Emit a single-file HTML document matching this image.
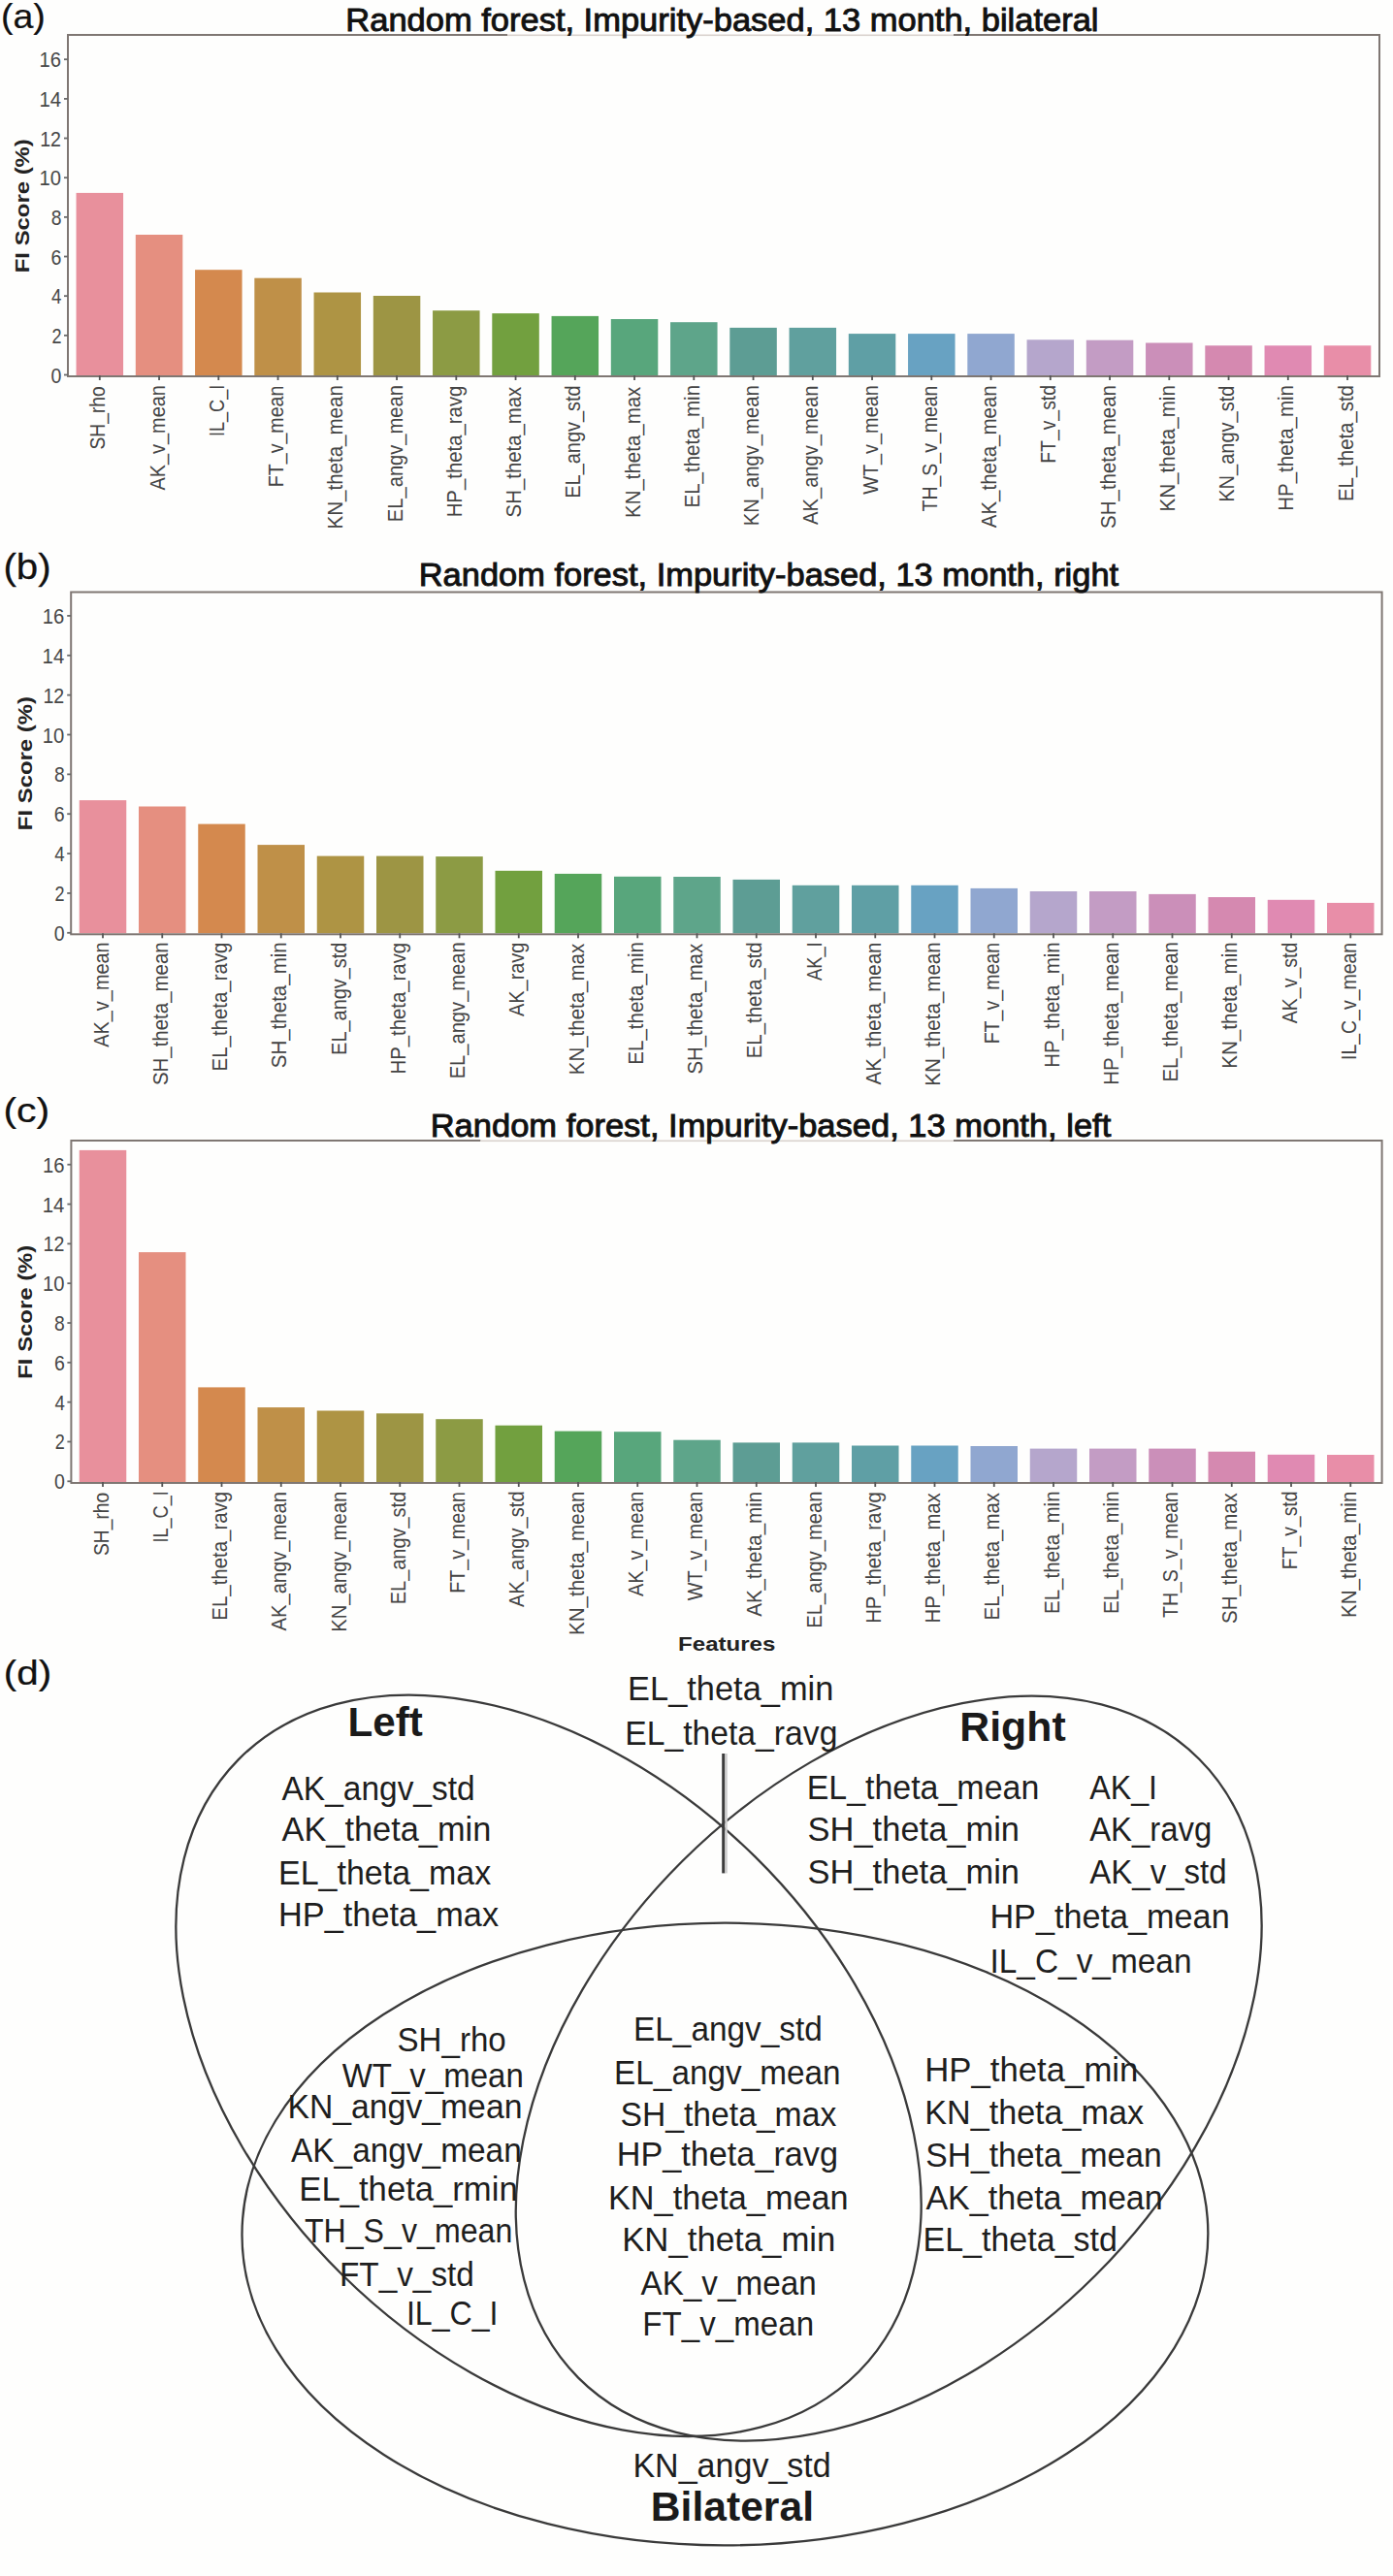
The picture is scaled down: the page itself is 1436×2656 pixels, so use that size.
<!DOCTYPE html>
<html><head><meta charset="utf-8"><style>
html,body{margin:0;padding:0;background:#fefefd;}
svg{display:block;}
text{font-family:"Liberation Sans",sans-serif;}
</style></head><body>
<svg width="1436" height="2656" viewBox="0 0 1436 2656">
<rect width="1436" height="2656" fill="#fefefd"/>
<rect x="78.55" y="198.90" width="48.5" height="188.10" fill="#e8909c"/>
<rect x="139.80" y="242.00" width="48.5" height="145.00" fill="#e58f80"/>
<rect x="201.05" y="278.20" width="48.5" height="108.80" fill="#d4894e"/>
<rect x="262.30" y="286.70" width="48.5" height="100.30" fill="#bf9048"/>
<rect x="323.55" y="301.50" width="48.5" height="85.50" fill="#ae9444"/>
<rect x="384.80" y="305.00" width="48.5" height="82.00" fill="#9d9544"/>
<rect x="446.05" y="320.20" width="48.5" height="66.80" fill="#8c9b44"/>
<rect x="507.30" y="323.10" width="48.5" height="63.90" fill="#72a03f"/>
<rect x="568.55" y="325.90" width="48.5" height="61.10" fill="#55a55a"/>
<rect x="629.80" y="329.00" width="48.5" height="58.00" fill="#58a67c"/>
<rect x="691.05" y="332.20" width="48.5" height="54.80" fill="#5ea58a"/>
<rect x="752.30" y="337.90" width="48.5" height="49.10" fill="#5d9d94"/>
<rect x="813.55" y="337.90" width="48.5" height="49.10" fill="#60a09e"/>
<rect x="874.80" y="344.10" width="48.5" height="42.90" fill="#5f9fa5"/>
<rect x="936.05" y="344.10" width="48.5" height="42.90" fill="#68a2c2"/>
<rect x="997.30" y="344.10" width="48.5" height="42.90" fill="#90a7d0"/>
<rect x="1058.55" y="350.30" width="48.5" height="36.70" fill="#b5a6cc"/>
<rect x="1119.80" y="350.70" width="48.5" height="36.30" fill="#c39cc4"/>
<rect x="1181.05" y="353.50" width="48.5" height="33.50" fill="#cb8fb9"/>
<rect x="1242.30" y="356.30" width="48.5" height="30.70" fill="#d589b0"/>
<rect x="1303.55" y="356.30" width="48.5" height="30.70" fill="#e08ab2"/>
<rect x="1364.80" y="356.30" width="48.5" height="30.70" fill="#e88ea8"/>
<rect x="70.00" y="36.00" width="1352.00" height="352.00" fill="none" stroke="#7f7773" stroke-width="2"/>
<rect x="523" y="34.80" width="460" height="2.4" fill="#fefefd"/>
<rect x="523" y="35.50" width="460" height="1.6" fill="#d9d2ce"/>
<rect x="66.00" y="385.60" width="4" height="1.8" fill="#6a6a6a"/>
<text transform="translate(52.58,394.50) scale(0.8686,1)" style="font-size:22.5px;" fill="#474747">0</text>
<rect x="66.00" y="344.94" width="4" height="1.8" fill="#6a6a6a"/>
<text transform="translate(53.38,353.84) scale(0.8018,1)" style="font-size:22.5px;" fill="#474747">2</text>
<rect x="66.00" y="304.28" width="4" height="1.8" fill="#6a6a6a"/>
<text transform="translate(53.02,313.18) scale(0.8313,1)" style="font-size:22.5px;" fill="#474747">4</text>
<rect x="66.00" y="263.62" width="4" height="1.8" fill="#6a6a6a"/>
<text transform="translate(52.58,272.52) scale(0.8686,1)" style="font-size:22.5px;" fill="#474747">6</text>
<rect x="66.00" y="222.96" width="4" height="1.8" fill="#6a6a6a"/>
<text transform="translate(52.69,231.86) scale(0.8591,1)" style="font-size:22.5px;" fill="#474747">8</text>
<rect x="66.00" y="182.30" width="4" height="1.8" fill="#6a6a6a"/>
<text transform="translate(40.52,191.20) scale(0.8993,1)" style="font-size:22.5px;" fill="#474747">10</text>
<rect x="66.00" y="141.64" width="4" height="1.8" fill="#6a6a6a"/>
<text transform="translate(41.20,150.54) scale(0.8720,1)" style="font-size:22.5px;" fill="#474747">12</text>
<rect x="66.00" y="100.98" width="4" height="1.8" fill="#6a6a6a"/>
<text transform="translate(40.40,109.88) scale(0.9039,1)" style="font-size:22.5px;" fill="#474747">14</text>
<rect x="66.00" y="60.32" width="4" height="1.8" fill="#6a6a6a"/>
<text transform="translate(40.52,69.22) scale(0.8993,1)" style="font-size:22.5px;" fill="#474747">16</text>
<rect x="101.90" y="387.00" width="1.8" height="5" fill="#555"/>
<text transform="translate(108.30,463.46) rotate(-90) scale(0.8548,1)" style="font-size:22.5px;" fill="#444">SH_rho</text>
<rect x="163.15" y="387.00" width="1.8" height="5" fill="#555"/>
<text transform="translate(169.55,505.55) rotate(-90) scale(0.8847,1)" style="font-size:22.5px;" fill="#444">AK_v_mean</text>
<rect x="224.40" y="387.00" width="1.8" height="5" fill="#555"/>
<text transform="translate(230.80,450.08) rotate(-90) scale(0.8059,1)" style="font-size:22.5px;" fill="#444">IL_C_I</text>
<rect x="285.65" y="387.00" width="1.8" height="5" fill="#555"/>
<text transform="translate(292.05,502.16) rotate(-90) scale(0.8711,1)" style="font-size:22.5px;" fill="#444">FT_v_mean</text>
<rect x="346.90" y="387.00" width="1.8" height="5" fill="#555"/>
<text transform="translate(353.30,545.51) rotate(-90) scale(0.9131,1)" style="font-size:22.5px;" fill="#444">KN_theta_mean</text>
<rect x="408.15" y="387.00" width="1.8" height="5" fill="#555"/>
<text transform="translate(414.55,538.14) rotate(-90) scale(0.8951,1)" style="font-size:22.5px;" fill="#444">EL_angv_mean</text>
<rect x="469.40" y="387.00" width="1.8" height="5" fill="#555"/>
<text transform="translate(475.80,533.34) rotate(-90) scale(0.9050,1)" style="font-size:22.5px;" fill="#444">HP_theta_ravg</text>
<rect x="530.65" y="387.00" width="1.8" height="5" fill="#555"/>
<text transform="translate(537.05,533.38) rotate(-90) scale(0.9052,1)" style="font-size:22.5px;" fill="#444">SH_theta_max</text>
<rect x="591.90" y="387.00" width="1.8" height="5" fill="#555"/>
<text transform="translate(598.30,513.72) rotate(-90) scale(0.8863,1)" style="font-size:22.5px;" fill="#444">EL_angv_std</text>
<rect x="653.15" y="387.00" width="1.8" height="5" fill="#555"/>
<text transform="translate(659.55,533.98) rotate(-90) scale(0.9093,1)" style="font-size:22.5px;" fill="#444">KN_theta_max</text>
<rect x="714.40" y="387.00" width="1.8" height="5" fill="#555"/>
<text transform="translate(720.80,523.51) rotate(-90) scale(0.9125,1)" style="font-size:22.5px;" fill="#444">EL_theta_min</text>
<rect x="775.65" y="387.00" width="1.8" height="5" fill="#555"/>
<text transform="translate(782.05,542.23) rotate(-90) scale(0.8983,1)" style="font-size:22.5px;" fill="#444">KN_angv_mean</text>
<rect x="836.90" y="387.00" width="1.8" height="5" fill="#555"/>
<text transform="translate(843.30,540.96) rotate(-90) scale(0.8960,1)" style="font-size:22.5px;" fill="#444">AK_angv_mean</text>
<rect x="898.15" y="387.00" width="1.8" height="5" fill="#555"/>
<text transform="translate(904.55,509.85) rotate(-90) scale(0.8837,1)" style="font-size:22.5px;" fill="#444">WT_v_mean</text>
<rect x="959.40" y="387.00" width="1.8" height="5" fill="#555"/>
<text transform="translate(965.80,527.45) rotate(-90) scale(0.8654,1)" style="font-size:22.5px;" fill="#444">TH_S_v_mean</text>
<rect x="1020.65" y="387.00" width="1.8" height="5" fill="#555"/>
<text transform="translate(1027.05,544.21) rotate(-90) scale(0.9107,1)" style="font-size:22.5px;" fill="#444">AK_theta_mean</text>
<rect x="1081.90" y="387.00" width="1.8" height="5" fill="#555"/>
<text transform="translate(1088.30,477.74) rotate(-90) scale(0.8613,1)" style="font-size:22.5px;" fill="#444">FT_v_std</text>
<rect x="1143.15" y="387.00" width="1.8" height="5" fill="#555"/>
<text transform="translate(1149.55,544.91) rotate(-90) scale(0.9094,1)" style="font-size:22.5px;" fill="#444">SH_theta_mean</text>
<rect x="1204.40" y="387.00" width="1.8" height="5" fill="#555"/>
<text transform="translate(1210.80,527.60) rotate(-90) scale(0.9156,1)" style="font-size:22.5px;" fill="#444">KN_theta_min</text>
<rect x="1265.65" y="387.00" width="1.8" height="5" fill="#555"/>
<text transform="translate(1272.05,517.81) rotate(-90) scale(0.8904,1)" style="font-size:22.5px;" fill="#444">KN_angv_std</text>
<rect x="1326.90" y="387.00" width="1.8" height="5" fill="#555"/>
<text transform="translate(1333.30,526.65) rotate(-90) scale(0.9088,1)" style="font-size:22.5px;" fill="#444">HP_theta_min</text>
<rect x="1388.15" y="387.00" width="1.8" height="5" fill="#555"/>
<text transform="translate(1394.55,517.00) rotate(-90) scale(0.9046,1)" style="font-size:22.5px;" fill="#444">EL_theta_std</text>
<text transform="translate(29.70,281.23) rotate(-90) scale(1.2252,1)" style="font-size:19.5px;font-weight:bold;" fill="#222">FI Score (%)</text>
<text transform="translate(356.32,31.60) scale(1.0612,1)" style="font-size:32.5px;" fill="#111" stroke="#111" stroke-width="0.9">Random forest, Impurity-based, 13 month, bilateral</text>
<text transform="translate(0.92,28.50) scale(1.0425,1)" style="font-size:36px;" fill="#111" stroke="#111" stroke-width="0.25">(a)</text>
<rect x="81.75" y="825.10" width="48.5" height="137.20" fill="#e8909c"/>
<rect x="143.00" y="831.50" width="48.5" height="130.80" fill="#e58f80"/>
<rect x="204.25" y="849.60" width="48.5" height="112.70" fill="#d4894e"/>
<rect x="265.50" y="871.10" width="48.5" height="91.20" fill="#bf9048"/>
<rect x="326.75" y="882.60" width="48.5" height="79.70" fill="#ae9444"/>
<rect x="388.00" y="882.60" width="48.5" height="79.70" fill="#9d9544"/>
<rect x="449.25" y="883.10" width="48.5" height="79.20" fill="#8c9b44"/>
<rect x="510.50" y="897.80" width="48.5" height="64.50" fill="#72a03f"/>
<rect x="571.75" y="900.90" width="48.5" height="61.40" fill="#55a55a"/>
<rect x="633.00" y="903.80" width="48.5" height="58.50" fill="#58a67c"/>
<rect x="694.25" y="904.00" width="48.5" height="58.30" fill="#5ea58a"/>
<rect x="755.50" y="906.90" width="48.5" height="55.40" fill="#5d9d94"/>
<rect x="816.75" y="912.80" width="48.5" height="49.50" fill="#60a09e"/>
<rect x="878.00" y="912.80" width="48.5" height="49.50" fill="#5f9fa5"/>
<rect x="939.25" y="912.80" width="48.5" height="49.50" fill="#68a2c2"/>
<rect x="1000.50" y="915.90" width="48.5" height="46.40" fill="#90a7d0"/>
<rect x="1061.75" y="919.00" width="48.5" height="43.30" fill="#b5a6cc"/>
<rect x="1123.00" y="919.00" width="48.5" height="43.30" fill="#c39cc4"/>
<rect x="1184.25" y="921.90" width="48.5" height="40.40" fill="#cb8fb9"/>
<rect x="1245.50" y="925.00" width="48.5" height="37.30" fill="#d589b0"/>
<rect x="1306.75" y="927.80" width="48.5" height="34.50" fill="#e08ab2"/>
<rect x="1368.00" y="930.90" width="48.5" height="31.40" fill="#e88ea8"/>
<rect x="73.20" y="610.50" width="1351.40" height="352.80" fill="none" stroke="#7f7773" stroke-width="2"/>
<rect x="69.20" y="960.90" width="4" height="1.8" fill="#6a6a6a"/>
<text transform="translate(55.78,969.80) scale(0.8686,1)" style="font-size:22.5px;" fill="#474747">0</text>
<rect x="69.20" y="920.04" width="4" height="1.8" fill="#6a6a6a"/>
<text transform="translate(56.58,928.94) scale(0.8018,1)" style="font-size:22.5px;" fill="#474747">2</text>
<rect x="69.20" y="879.18" width="4" height="1.8" fill="#6a6a6a"/>
<text transform="translate(56.23,888.08) scale(0.8313,1)" style="font-size:22.5px;" fill="#474747">4</text>
<rect x="69.20" y="838.32" width="4" height="1.8" fill="#6a6a6a"/>
<text transform="translate(55.78,847.22) scale(0.8686,1)" style="font-size:22.5px;" fill="#474747">6</text>
<rect x="69.20" y="797.46" width="4" height="1.8" fill="#6a6a6a"/>
<text transform="translate(55.89,806.36) scale(0.8591,1)" style="font-size:22.5px;" fill="#474747">8</text>
<rect x="69.20" y="756.60" width="4" height="1.8" fill="#6a6a6a"/>
<text transform="translate(43.72,765.50) scale(0.8993,1)" style="font-size:22.5px;" fill="#474747">10</text>
<rect x="69.20" y="715.74" width="4" height="1.8" fill="#6a6a6a"/>
<text transform="translate(44.40,724.64) scale(0.8720,1)" style="font-size:22.5px;" fill="#474747">12</text>
<rect x="69.20" y="674.88" width="4" height="1.8" fill="#6a6a6a"/>
<text transform="translate(43.60,683.78) scale(0.9039,1)" style="font-size:22.5px;" fill="#474747">14</text>
<rect x="69.20" y="634.02" width="4" height="1.8" fill="#6a6a6a"/>
<text transform="translate(43.72,642.92) scale(0.8993,1)" style="font-size:22.5px;" fill="#474747">16</text>
<rect x="105.10" y="962.30" width="1.8" height="5" fill="#555"/>
<text transform="translate(111.50,1079.75) rotate(-90) scale(0.8847,1)" style="font-size:22.5px;" fill="#444">AK_v_mean</text>
<rect x="166.35" y="962.30" width="1.8" height="5" fill="#555"/>
<text transform="translate(172.75,1119.11) rotate(-90) scale(0.9094,1)" style="font-size:22.5px;" fill="#444">SH_theta_mean</text>
<rect x="227.60" y="962.30" width="1.8" height="5" fill="#555"/>
<text transform="translate(234.00,1104.41) rotate(-90) scale(0.9083,1)" style="font-size:22.5px;" fill="#444">EL_theta_ravg</text>
<rect x="288.85" y="962.30" width="1.8" height="5" fill="#555"/>
<text transform="translate(295.25,1101.20) rotate(-90) scale(0.9113,1)" style="font-size:22.5px;" fill="#444">SH_theta_min</text>
<rect x="350.10" y="962.30" width="1.8" height="5" fill="#555"/>
<text transform="translate(356.50,1087.92) rotate(-90) scale(0.8863,1)" style="font-size:22.5px;" fill="#444">EL_angv_std</text>
<rect x="411.35" y="962.30" width="1.8" height="5" fill="#555"/>
<text transform="translate(417.75,1107.54) rotate(-90) scale(0.9050,1)" style="font-size:22.5px;" fill="#444">HP_theta_ravg</text>
<rect x="472.60" y="962.30" width="1.8" height="5" fill="#555"/>
<text transform="translate(479.00,1112.34) rotate(-90) scale(0.8951,1)" style="font-size:22.5px;" fill="#444">EL_angv_mean</text>
<rect x="533.85" y="962.30" width="1.8" height="5" fill="#555"/>
<text transform="translate(540.25,1048.02) rotate(-90) scale(0.8861,1)" style="font-size:22.5px;" fill="#444">AK_ravg</text>
<rect x="595.10" y="962.30" width="1.8" height="5" fill="#555"/>
<text transform="translate(601.50,1108.18) rotate(-90) scale(0.9093,1)" style="font-size:22.5px;" fill="#444">KN_theta_max</text>
<rect x="656.35" y="962.30" width="1.8" height="5" fill="#555"/>
<text transform="translate(662.75,1097.71) rotate(-90) scale(0.9125,1)" style="font-size:22.5px;" fill="#444">EL_theta_min</text>
<rect x="717.60" y="962.30" width="1.8" height="5" fill="#555"/>
<text transform="translate(724.00,1107.58) rotate(-90) scale(0.9052,1)" style="font-size:22.5px;" fill="#444">SH_theta_max</text>
<rect x="778.85" y="962.30" width="1.8" height="5" fill="#555"/>
<text transform="translate(785.25,1091.20) rotate(-90) scale(0.9046,1)" style="font-size:22.5px;" fill="#444">EL_theta_std</text>
<rect x="840.10" y="962.30" width="1.8" height="5" fill="#555"/>
<text transform="translate(846.50,1011.04) rotate(-90) scale(0.8157,1)" style="font-size:22.5px;" fill="#444">AK_I</text>
<rect x="901.35" y="962.30" width="1.8" height="5" fill="#555"/>
<text transform="translate(907.75,1118.41) rotate(-90) scale(0.9107,1)" style="font-size:22.5px;" fill="#444">AK_theta_mean</text>
<rect x="962.60" y="962.30" width="1.8" height="5" fill="#555"/>
<text transform="translate(969.00,1119.71) rotate(-90) scale(0.9131,1)" style="font-size:22.5px;" fill="#444">KN_theta_mean</text>
<rect x="1023.85" y="962.30" width="1.8" height="5" fill="#555"/>
<text transform="translate(1030.25,1076.36) rotate(-90) scale(0.8711,1)" style="font-size:22.5px;" fill="#444">FT_v_mean</text>
<rect x="1085.10" y="962.30" width="1.8" height="5" fill="#555"/>
<text transform="translate(1091.50,1100.85) rotate(-90) scale(0.9088,1)" style="font-size:22.5px;" fill="#444">HP_theta_min</text>
<rect x="1146.35" y="962.30" width="1.8" height="5" fill="#555"/>
<text transform="translate(1152.75,1118.76) rotate(-90) scale(0.9072,1)" style="font-size:22.5px;" fill="#444">HP_theta_mean</text>
<rect x="1207.60" y="962.30" width="1.8" height="5" fill="#555"/>
<text transform="translate(1214.00,1115.62) rotate(-90) scale(0.9103,1)" style="font-size:22.5px;" fill="#444">EL_theta_mean</text>
<rect x="1268.85" y="962.30" width="1.8" height="5" fill="#555"/>
<text transform="translate(1275.25,1101.80) rotate(-90) scale(0.9156,1)" style="font-size:22.5px;" fill="#444">KN_theta_min</text>
<rect x="1330.10" y="962.30" width="1.8" height="5" fill="#555"/>
<text transform="translate(1336.50,1055.35) rotate(-90) scale(0.8700,1)" style="font-size:22.5px;" fill="#444">AK_v_std</text>
<rect x="1391.35" y="962.30" width="1.8" height="5" fill="#555"/>
<text transform="translate(1397.75,1093.01) rotate(-90) scale(0.8655,1)" style="font-size:22.5px;" fill="#444">IL_C_v_mean</text>
<text transform="translate(32.90,856.13) rotate(-90) scale(1.2252,1)" style="font-size:19.5px;font-weight:bold;" fill="#222">FI Score (%)</text>
<text transform="translate(431.72,604.00) scale(1.0599,1)" style="font-size:32.5px;" fill="#111" stroke="#111" stroke-width="0.9">Random forest, Impurity-based, 13 month, right</text>
<text transform="translate(3.47,596.80) scale(1.1175,1)" style="font-size:36px;" fill="#111" stroke="#111" stroke-width="0.25">(b)</text>
<rect x="81.75" y="1185.90" width="48.5" height="342.10" fill="#e8909c"/>
<rect x="143.00" y="1291.10" width="48.5" height="236.90" fill="#e58f80"/>
<rect x="204.25" y="1430.40" width="48.5" height="97.60" fill="#d4894e"/>
<rect x="265.50" y="1451.10" width="48.5" height="76.90" fill="#bf9048"/>
<rect x="326.75" y="1454.50" width="48.5" height="73.50" fill="#ae9444"/>
<rect x="388.00" y="1457.30" width="48.5" height="70.70" fill="#9d9544"/>
<rect x="449.25" y="1463.20" width="48.5" height="64.80" fill="#8c9b44"/>
<rect x="510.50" y="1469.70" width="48.5" height="58.30" fill="#72a03f"/>
<rect x="571.75" y="1475.60" width="48.5" height="52.40" fill="#55a55a"/>
<rect x="633.00" y="1476.20" width="48.5" height="51.80" fill="#58a67c"/>
<rect x="694.25" y="1484.70" width="48.5" height="43.30" fill="#5ea58a"/>
<rect x="755.50" y="1487.40" width="48.5" height="40.60" fill="#5d9d94"/>
<rect x="816.75" y="1487.40" width="48.5" height="40.60" fill="#60a09e"/>
<rect x="878.00" y="1490.50" width="48.5" height="37.50" fill="#5f9fa5"/>
<rect x="939.25" y="1490.50" width="48.5" height="37.50" fill="#68a2c2"/>
<rect x="1000.50" y="1491.00" width="48.5" height="37.00" fill="#90a7d0"/>
<rect x="1061.75" y="1493.60" width="48.5" height="34.40" fill="#b5a6cc"/>
<rect x="1123.00" y="1493.60" width="48.5" height="34.40" fill="#c39cc4"/>
<rect x="1184.25" y="1493.60" width="48.5" height="34.40" fill="#cb8fb9"/>
<rect x="1245.50" y="1496.70" width="48.5" height="31.30" fill="#d589b0"/>
<rect x="1306.75" y="1499.80" width="48.5" height="28.20" fill="#e08ab2"/>
<rect x="1368.00" y="1500.00" width="48.5" height="28.00" fill="#e88ea8"/>
<rect x="73.40" y="1176.00" width="1351.20" height="353.00" fill="none" stroke="#7f7773" stroke-width="2"/>
<rect x="495.4" y="1174.80" width="487.6" height="2.4" fill="#fefefd"/>
<rect x="495.4" y="1175.50" width="487.6" height="1.6" fill="#d9d2ce"/>
<rect x="69.40" y="1526.40" width="4" height="1.8" fill="#6a6a6a"/>
<text transform="translate(55.98,1535.30) scale(0.8686,1)" style="font-size:22.5px;" fill="#474747">0</text>
<rect x="69.40" y="1485.58" width="4" height="1.8" fill="#6a6a6a"/>
<text transform="translate(56.78,1494.48) scale(0.8018,1)" style="font-size:22.5px;" fill="#474747">2</text>
<rect x="69.40" y="1444.76" width="4" height="1.8" fill="#6a6a6a"/>
<text transform="translate(56.43,1453.66) scale(0.8313,1)" style="font-size:22.5px;" fill="#474747">4</text>
<rect x="69.40" y="1403.94" width="4" height="1.8" fill="#6a6a6a"/>
<text transform="translate(55.98,1412.84) scale(0.8686,1)" style="font-size:22.5px;" fill="#474747">6</text>
<rect x="69.40" y="1363.12" width="4" height="1.8" fill="#6a6a6a"/>
<text transform="translate(56.09,1372.02) scale(0.8591,1)" style="font-size:22.5px;" fill="#474747">8</text>
<rect x="69.40" y="1322.30" width="4" height="1.8" fill="#6a6a6a"/>
<text transform="translate(43.92,1331.20) scale(0.8993,1)" style="font-size:22.5px;" fill="#474747">10</text>
<rect x="69.40" y="1281.48" width="4" height="1.8" fill="#6a6a6a"/>
<text transform="translate(44.60,1290.38) scale(0.8720,1)" style="font-size:22.5px;" fill="#474747">12</text>
<rect x="69.40" y="1240.66" width="4" height="1.8" fill="#6a6a6a"/>
<text transform="translate(43.80,1249.56) scale(0.9039,1)" style="font-size:22.5px;" fill="#474747">14</text>
<rect x="69.40" y="1199.84" width="4" height="1.8" fill="#6a6a6a"/>
<text transform="translate(43.92,1208.74) scale(0.8993,1)" style="font-size:22.5px;" fill="#474747">16</text>
<rect x="105.10" y="1528.00" width="1.8" height="5" fill="#555"/>
<text transform="translate(111.50,1603.96) rotate(-90) scale(0.8548,1)" style="font-size:22.5px;" fill="#444">SH_rho</text>
<rect x="166.35" y="1528.00" width="1.8" height="5" fill="#555"/>
<text transform="translate(172.75,1590.58) rotate(-90) scale(0.8059,1)" style="font-size:22.5px;" fill="#444">IL_C_I</text>
<rect x="227.60" y="1528.00" width="1.8" height="5" fill="#555"/>
<text transform="translate(234.00,1670.71) rotate(-90) scale(0.9083,1)" style="font-size:22.5px;" fill="#444">EL_theta_ravg</text>
<rect x="288.85" y="1528.00" width="1.8" height="5" fill="#555"/>
<text transform="translate(295.25,1681.46) rotate(-90) scale(0.8960,1)" style="font-size:22.5px;" fill="#444">AK_angv_mean</text>
<rect x="350.10" y="1528.00" width="1.8" height="5" fill="#555"/>
<text transform="translate(356.50,1682.73) rotate(-90) scale(0.8983,1)" style="font-size:22.5px;" fill="#444">KN_angv_mean</text>
<rect x="411.35" y="1528.00" width="1.8" height="5" fill="#555"/>
<text transform="translate(417.75,1654.22) rotate(-90) scale(0.8863,1)" style="font-size:22.5px;" fill="#444">EL_angv_std</text>
<rect x="472.60" y="1528.00" width="1.8" height="5" fill="#555"/>
<text transform="translate(479.00,1642.66) rotate(-90) scale(0.8711,1)" style="font-size:22.5px;" fill="#444">FT_v_mean</text>
<rect x="533.85" y="1528.00" width="1.8" height="5" fill="#555"/>
<text transform="translate(540.25,1657.05) rotate(-90) scale(0.8943,1)" style="font-size:22.5px;" fill="#444">AK_angv_std</text>
<rect x="595.10" y="1528.00" width="1.8" height="5" fill="#555"/>
<text transform="translate(601.50,1686.01) rotate(-90) scale(0.9131,1)" style="font-size:22.5px;" fill="#444">KN_theta_mean</text>
<rect x="656.35" y="1528.00" width="1.8" height="5" fill="#555"/>
<text transform="translate(662.75,1646.05) rotate(-90) scale(0.8847,1)" style="font-size:22.5px;" fill="#444">AK_v_mean</text>
<rect x="717.60" y="1528.00" width="1.8" height="5" fill="#555"/>
<text transform="translate(724.00,1650.35) rotate(-90) scale(0.8837,1)" style="font-size:22.5px;" fill="#444">WT_v_mean</text>
<rect x="778.85" y="1528.00" width="1.8" height="5" fill="#555"/>
<text transform="translate(785.25,1666.80) rotate(-90) scale(0.9128,1)" style="font-size:22.5px;" fill="#444">AK_theta_min</text>
<rect x="840.10" y="1528.00" width="1.8" height="5" fill="#555"/>
<text transform="translate(846.50,1678.64) rotate(-90) scale(0.8951,1)" style="font-size:22.5px;" fill="#444">EL_angv_mean</text>
<rect x="901.35" y="1528.00" width="1.8" height="5" fill="#555"/>
<text transform="translate(907.75,1673.84) rotate(-90) scale(0.9050,1)" style="font-size:22.5px;" fill="#444">HP_theta_ravg</text>
<rect x="962.60" y="1528.00" width="1.8" height="5" fill="#555"/>
<text transform="translate(969.00,1673.52) rotate(-90) scale(0.9028,1)" style="font-size:22.5px;" fill="#444">HP_theta_max</text>
<rect x="1023.85" y="1528.00" width="1.8" height="5" fill="#555"/>
<text transform="translate(1030.25,1670.39) rotate(-90) scale(0.9061,1)" style="font-size:22.5px;" fill="#444">EL_theta_max</text>
<rect x="1085.10" y="1528.00" width="1.8" height="5" fill="#555"/>
<text transform="translate(1091.50,1664.01) rotate(-90) scale(0.9125,1)" style="font-size:22.5px;" fill="#444">EL_theta_min</text>
<rect x="1146.35" y="1528.00" width="1.8" height="5" fill="#555"/>
<text transform="translate(1152.75,1664.01) rotate(-90) scale(0.9125,1)" style="font-size:22.5px;" fill="#444">EL_theta_min</text>
<rect x="1207.60" y="1528.00" width="1.8" height="5" fill="#555"/>
<text transform="translate(1214.00,1667.95) rotate(-90) scale(0.8654,1)" style="font-size:22.5px;" fill="#444">TH_S_v_mean</text>
<rect x="1268.85" y="1528.00" width="1.8" height="5" fill="#555"/>
<text transform="translate(1275.25,1673.88) rotate(-90) scale(0.9052,1)" style="font-size:22.5px;" fill="#444">SH_theta_max</text>
<rect x="1330.10" y="1528.00" width="1.8" height="5" fill="#555"/>
<text transform="translate(1336.50,1618.24) rotate(-90) scale(0.8613,1)" style="font-size:22.5px;" fill="#444">FT_v_std</text>
<rect x="1391.35" y="1528.00" width="1.8" height="5" fill="#555"/>
<text transform="translate(1397.75,1668.10) rotate(-90) scale(0.9156,1)" style="font-size:22.5px;" fill="#444">KN_theta_min</text>
<text transform="translate(33.10,1421.73) rotate(-90) scale(1.2252,1)" style="font-size:19.5px;font-weight:bold;" fill="#222">FI Score (%)</text>
<text transform="translate(443.71,1172.00) scale(1.0617,1)" style="font-size:32.5px;" fill="#111" stroke="#111" stroke-width="0.9">Random forest, Impurity-based, 13 month, left</text>
<text transform="translate(3.42,1156.80) scale(1.1395,1)" style="font-size:36px;" fill="#111" stroke="#111" stroke-width="0.25">(c)</text>
<text transform="translate(699.10,1701.50) scale(1.2025,1)" style="font-size:20px;font-weight:bold;" fill="#222">Features</text>
<text transform="translate(3.85,1737.40) scale(1.1225,1)" style="font-size:36px;" fill="#111" stroke="#111" stroke-width="0.25">(d)</text>
<ellipse cx="565.51" cy="2129.81" rx="449.22" ry="302.87" transform="rotate(-135.40 565.51 2129.81)" fill="none" stroke="#3a3a3a" stroke-width="2.3"/>
<ellipse cx="916.19" cy="2132.66" rx="301.60" ry="451.82" transform="rotate(45.10 916.19 2132.66)" fill="none" stroke="#3a3a3a" stroke-width="2.3"/>
<ellipse cx="747.41" cy="2303.55" rx="497.92" ry="320.85" transform="rotate(179.90 747.41 2303.55)" fill="none" stroke="#3a3a3a" stroke-width="2.3"/>
<rect x="744.2" y="1808" width="3.2" height="123.4" fill="#3c3c3c"/>
<rect x="747.4" y="1808" width="2.4" height="123.4" fill="#cfcfcf"/>
<text transform="translate(647.09,1752.80) scale(0.9692,1)" style="font-size:35.5px;" fill="#1e1e1e">EL_theta_min</text>
<text transform="translate(644.15,1798.60) scale(0.9500,1)" style="font-size:35.5px;" fill="#1e1e1e">EL_theta_ravg</text>
<text transform="translate(290.50,1855.70) scale(0.9431,1)" style="font-size:35.5px;" fill="#1e1e1e">AK_angv_std</text>
<text transform="translate(290.50,1897.70) scale(0.9679,1)" style="font-size:35.5px;" fill="#1e1e1e">AK_theta_min</text>
<text transform="translate(287.03,1942.90) scale(0.9573,1)" style="font-size:35.5px;" fill="#1e1e1e">EL_theta_max</text>
<text transform="translate(287.00,1985.50) scale(0.9675,1)" style="font-size:35.5px;" fill="#1e1e1e">HP_theta_max</text>
<text transform="translate(831.63,1855.40) scale(0.9565,1)" style="font-size:35.5px;" fill="#1e1e1e">EL_theta_mean</text>
<text transform="translate(832.56,1897.50) scale(0.9715,1)" style="font-size:35.5px;" fill="#1e1e1e">SH_theta_min</text>
<text transform="translate(832.56,1942.30) scale(0.9715,1)" style="font-size:35.5px;" fill="#1e1e1e">SH_theta_min</text>
<text transform="translate(1123.20,1855.40) scale(0.9081,1)" style="font-size:35.5px;" fill="#1e1e1e">AK_I</text>
<text transform="translate(1123.20,1897.50) scale(0.9261,1)" style="font-size:35.5px;" fill="#1e1e1e">AK_ravg</text>
<text transform="translate(1123.20,1942.30) scale(0.9307,1)" style="font-size:35.5px;" fill="#1e1e1e">AK_v_std</text>
<text transform="translate(1020.41,1988.20) scale(0.9639,1)" style="font-size:35.5px;" fill="#1e1e1e">HP_theta_mean</text>
<text transform="translate(1020.48,2034.10) scale(0.9412,1)" style="font-size:35.5px;" fill="#1e1e1e">IL_C_v_mean</text>
<text transform="translate(409.43,2114.70) scale(0.9339,1)" style="font-size:35.5px;" fill="#1e1e1e">SH_rho</text>
<text transform="translate(352.70,2151.60) scale(0.9300,1)" style="font-size:35.5px;" fill="#1e1e1e">WT_v_mean</text>
<text transform="translate(296.45,2184.40) scale(0.9508,1)" style="font-size:35.5px;" fill="#1e1e1e">KN_angv_mean</text>
<text transform="translate(300.00,2229.20) scale(0.9414,1)" style="font-size:35.5px;" fill="#1e1e1e">AK_angv_mean</text>
<text transform="translate(308.37,2268.80) scale(0.9761,1)" style="font-size:35.5px;" fill="#1e1e1e">EL_theta_rmin</text>
<text transform="translate(313.89,2312.00) scale(0.9056,1)" style="font-size:35.5px;" fill="#1e1e1e">TH_S_v_mean</text>
<text transform="translate(349.88,2356.80) scale(0.9399,1)" style="font-size:35.5px;" fill="#1e1e1e">FT_v_std</text>
<text transform="translate(418.88,2396.50) scale(0.9051,1)" style="font-size:35.5px;" fill="#1e1e1e">IL_C_I</text>
<text transform="translate(652.98,2103.60) scale(0.9409,1)" style="font-size:35.5px;" fill="#1e1e1e">EL_angv_std</text>
<text transform="translate(633.08,2148.70) scale(0.9389,1)" style="font-size:35.5px;" fill="#1e1e1e">EL_angv_mean</text>
<text transform="translate(639.50,2191.50) scale(0.9487,1)" style="font-size:35.5px;" fill="#1e1e1e">SH_theta_max</text>
<text transform="translate(635.71,2233.20) scale(0.9642,1)" style="font-size:35.5px;" fill="#1e1e1e">HP_theta_ravg</text>
<text transform="translate(627.00,2278.20) scale(0.9655,1)" style="font-size:35.5px;" fill="#1e1e1e">KN_theta_mean</text>
<text transform="translate(641.16,2320.50) scale(0.9795,1)" style="font-size:35.5px;" fill="#1e1e1e">KN_theta_min</text>
<text transform="translate(660.50,2365.50) scale(0.9375,1)" style="font-size:35.5px;" fill="#1e1e1e">AK_v_mean</text>
<text transform="translate(662.30,2407.80) scale(0.9335,1)" style="font-size:35.5px;" fill="#1e1e1e">FT_v_mean</text>
<text transform="translate(953.16,2146.10) scale(0.9791,1)" style="font-size:35.5px;" fill="#1e1e1e">HP_theta_min</text>
<text transform="translate(953.21,2190.20) scale(0.9623,1)" style="font-size:35.5px;" fill="#1e1e1e">KN_theta_max</text>
<text transform="translate(954.20,2234.00) scale(0.9494,1)" style="font-size:35.5px;" fill="#1e1e1e">SH_theta_mean</text>
<text transform="translate(954.40,2278.20) scale(0.9601,1)" style="font-size:35.5px;" fill="#1e1e1e">AK_theta_mean</text>
<text transform="translate(951.53,2321.30) scale(0.9580,1)" style="font-size:35.5px;" fill="#1e1e1e">EL_theta_std</text>
<text transform="translate(652.42,2554.00) scale(0.9591,1)" style="font-size:35.5px;" fill="#1e1e1e">KN_angv_std</text>
<text transform="translate(358.59,1789.50) scale(1.0041,1)" style="font-size:42px;font-weight:bold;" fill="#1a1a1a">Left</text>
<text transform="translate(989.24,1795.10) scale(1.0202,1)" style="font-size:42px;font-weight:bold;" fill="#1a1a1a">Right</text>
<text transform="translate(670.86,2599.20) scale(1.0144,1)" style="font-size:42px;font-weight:bold;" fill="#1a1a1a">Bilateral</text>
</svg>
</body></html>
